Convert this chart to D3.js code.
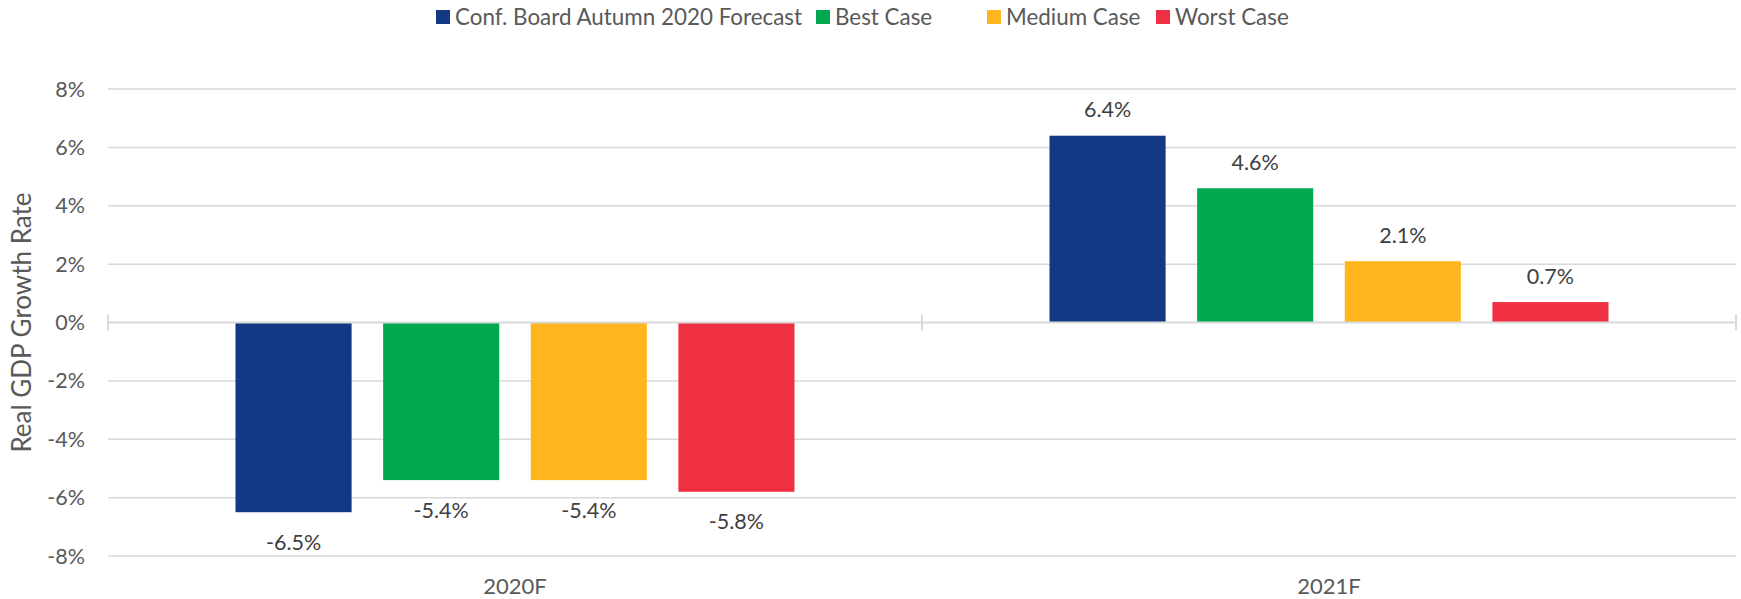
<!DOCTYPE html>
<html><head><meta charset="utf-8">
<script src="https://cdn.jsdelivr.net/npm/d3@7"></script>
<style>
html,body{margin:0;padding:0;background:#fff;}
svg{display:block;font-family:"Source Sans Pro","Lato","Noto Sans",sans-serif;}
</style></head>
<body><svg id="chart" width="1741" height="599"></svg>
<script>
const categories = ["2020F", "2021F"];
const seriesNames = ["Conf. Board Autumn 2020 Forecast", "Best Case", "Medium Case", "Worst Case"];
const seriesColors = ["#133984", "#00a94f", "#ffb61e", "#ef3042"];
const confBoard = [-6.5, 6.4];
const bestCase = [-5.4, 4.6];
const mediumCase = [-5.4, 2.1];
const worstCase = [-5.8, 0.7];
const yTicks = [-8, -6, -4, -2, 0, 2, 4, 6, 8];
const yTitle = "Real GDP Growth Rate";

const seriesValues = [confBoard, bestCase, mediumCase, worstCase];

const svg = d3.select("#chart");
const pLeft = 108, pRight = 1736, pTop = 89, pBottom = 556;

const x0 = d3.scaleBand().domain(categories).range([pLeft, pRight]).padding(0);
const outer = 127.5;
const x1 = d3.scaleBand().domain(seriesNames)
  .range([outer, x0.bandwidth() - outer]).paddingInner(0.2136).paddingOuter(0);
const y = d3.scaleLinear().domain([-8, 8]).range([pBottom, pTop]);

// gridlines
svg.append("g").selectAll("line").data(yTicks.filter(t => t !== 0)).join("line")
  .attr("x1", pLeft).attr("x2", pRight)
  .attr("y1", d => y(d)).attr("y2", d => y(d))
  .attr("stroke", "#d9d9d9").attr("stroke-width", 1.5);

// y tick labels
svg.append("g").selectAll("text").data(yTicks).join("text")
  .attr("x", 85).attr("y", d => y(d)).attr("dy", "0.35em")
  .attr("text-anchor", "end").attr("fill", "#595959")
  .attr("font-size", 21.5)
  .text(d => d + "%");

// y title
svg.append("text")
  .attr("transform", `translate(31,${y(0)}) rotate(-90)`)
  .attr("text-anchor", "middle").attr("fill", "#595959")
  .attr("font-size", 26).text(yTitle);

// bars
const groups = svg.append("g").selectAll("g").data(categories).join("g")
  .attr("transform", d => `translate(${x0(d)},0)`);

groups.selectAll("rect").data((c, ci) => seriesNames.map((s, si) => ({s, si, v: seriesValues[si][ci]})))
  .join("rect")
  .attr("x", d => x1(d.s)).attr("width", x1.bandwidth())
  .attr("y", d => y(Math.max(0, d.v)))
  .attr("height", d => Math.abs(y(d.v) - y(0)))
  .attr("fill", d => seriesColors[d.si]);

groups.selectAll("text").data((c, ci) => seriesNames.map((s, si) => ({s, si, v: seriesValues[si][ci]})))
  .join("text")
  .attr("x", d => x1(d.s) + x1.bandwidth() / 2)
  .attr("y", d => d.v >= 0 ? y(d.v) - 26 : y(d.v) + 30)
  .attr("dy", "0.35em")
  .attr("text-anchor", "middle").attr("fill", "#404040")
  .attr("font-size", 21.5)
  .text(d => d.v.toFixed(1) + "%");

// x axis line at 0 with crossing ticks
const axisY = y(0);
svg.append("line").attr("x1", pLeft).attr("x2", pRight)
  .attr("y1", axisY).attr("y2", axisY)
  .attr("stroke", "#d9d9d9").attr("stroke-width", 2);
const tickXs = categories.map(c => x0(c)).concat([pRight]);
svg.append("g").selectAll("line").data(tickXs).join("line")
  .attr("x1", d => d).attr("x2", d => d)
  .attr("y1", axisY - 8).attr("y2", axisY + 8)
  .attr("stroke", "#d9d9d9").attr("stroke-width", 2);

// category labels
svg.append("g").selectAll("text").data(categories).join("text")
  .attr("x", d => x0(d) + x0.bandwidth() / 2).attr("y", 586)
  .attr("dy", "0.35em").attr("text-anchor", "middle")
  .attr("fill", "#595959").attr("font-size", 22)
  .text(d => d);

// legend
const legendX = [436, 816, 987, 1156];
const leg = svg.append("g").selectAll("g").data(seriesNames).join("g")
  .attr("transform", (d, i) => `translate(${legendX[i]},10)`);
leg.append("rect").attr("width", 14).attr("height", 14)
  .attr("fill", (d, i) => seriesColors[i]);
leg.append("text").attr("x", 19).attr("y", 7).attr("dy", "0.35em")
  .attr("fill", "#595959").attr("font-size", 22.4).text(d => d);
</script></body></html>
